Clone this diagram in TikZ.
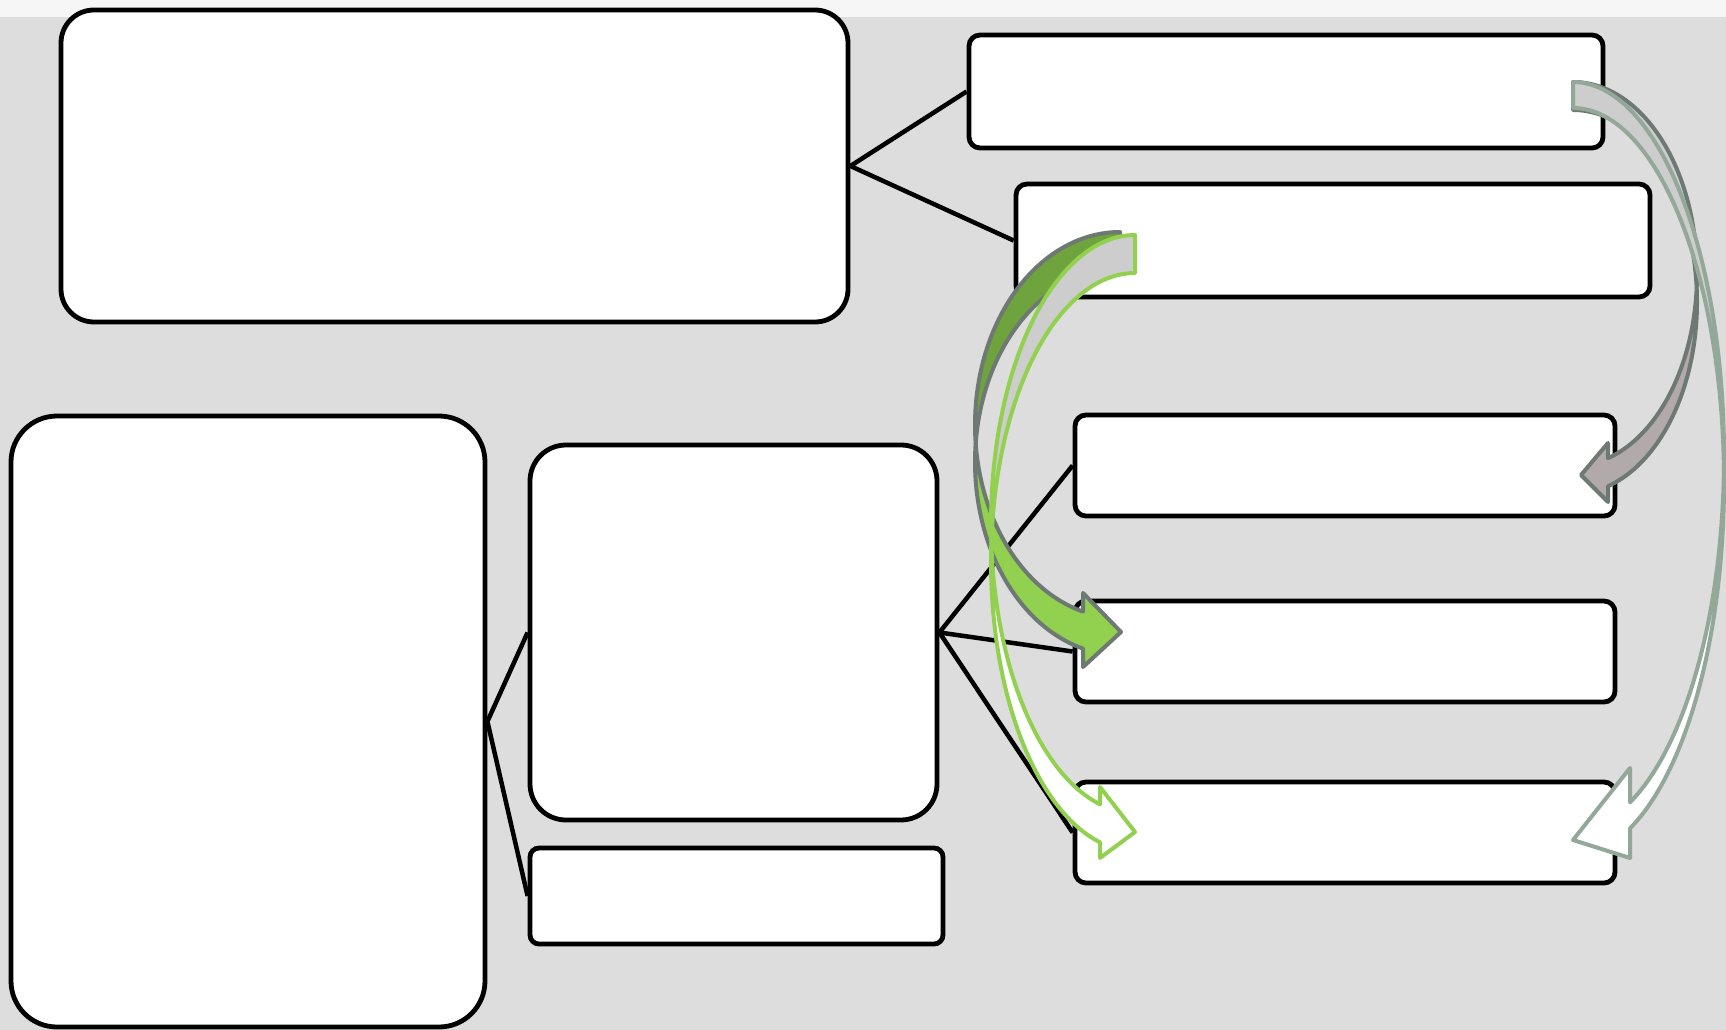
\documentclass[tikz,border=0pt]{standalone}
\usepackage{tikz}
\definecolor{bggray}{HTML}{DDDDDD}
\definecolor{topband}{HTML}{F6F6F6}
\definecolor{agreen}{HTML}{92D050}
\definecolor{agreendark}{HTML}{6FA33D}
\definecolor{agrayline}{HTML}{6D7972}
\definecolor{asage}{HTML}{94A89A}
\definecolor{aback}{HTML}{CDCDCD}
\definecolor{amauve}{HTML}{B1A9AA}
\tikzset{
  pbox/.style={draw=black, fill=white, line width=4.8pt, rectangle, inner sep=0pt},
  conn/.style={draw=black, line width=4.5pt},
}
% curved ribbon arrow; parameters are read from \rbS,\rbCx,\rbCy,\rbW,\rbH,\rbT,\rbXb,\rbYa,\rbYb,\rbTx,\rbTy
\newcommand{\ribbonarrow}[3]{%
  \pgfmathsetmacro\rbTA{180-asin(\rbT/(2*\rbH))}%
  \pgfmathsetmacro\rbTB{180+asin(\rbT/(2*\rbH))}%
  \pgfmathsetmacro\rbTH{acos(\rbS*(\rbXb-\rbCx)/\rbW)}%
  \filldraw[fill=#1, draw=#3, line width=4pt, line join=round]
    plot[domain=270:\rbTA, samples=70] ({\rbCx+\rbS*\rbW*cos(\x)},{\rbCy+\rbH*sin(\x)})
    -- plot[domain=\rbTB:270, samples=70] ({\rbCx+\rbS*\rbW*cos(\x)},{\rbCy+\rbT+\rbH*sin(\x)})
    -- cycle;
  \filldraw[fill=#2, draw=#3, line width=4pt, line join=round]
    plot[domain=\rbTA:\rbTH, samples=70] ({\rbCx+\rbS*\rbW*cos(\x)},{\rbCy+\rbH*sin(\x)})
    -- (\rbXb,\rbYa) -- (\rbTx,\rbTy) -- (\rbXb,\rbYb)
    -- plot[domain=\rbTH:\rbTB, samples=70] ({\rbCx+\rbS*\rbW*cos(\x)},{\rbCy+\rbT+\rbH*sin(\x)})
    -- cycle;
}
\begin{document}
\begin{tikzpicture}[x=1pt,y=-1pt]
\useasboundingbox (0,0) rectangle (1726,1030);
\fill[bggray] (0,0) rectangle (1726,1030);
\fill[topband] (0,0) rectangle (1726,17);

% boxes
\node[pbox, rounded corners=33pt, minimum width=787pt, minimum height=312pt] (A) at (454.5,166) {};
\node[pbox, rounded corners=11pt, minimum width=634pt, minimum height=113pt] (B) at (1286,91.5) {};
\node[pbox, rounded corners=11pt, minimum width=634pt, minimum height=113pt] (C) at (1333,240.5) {};
\node[pbox, rounded corners=11pt, minimum width=540pt, minimum height=101pt] (D) at (1345,465.5) {};
\node[pbox, rounded corners=11pt, minimum width=540pt, minimum height=101pt] (E) at (1345,651.5) {};
\node[pbox, rounded corners=11pt, minimum width=540pt, minimum height=101pt] (F) at (1345,832.5) {};
\node[pbox, rounded corners=46pt, minimum width=474pt, minimum height=611pt] (G) at (248,721.5) {};
\node[pbox, rounded corners=36pt, minimum width=407pt, minimum height=375pt] (H) at (733.5,632.5) {};
\node[pbox, rounded corners=9pt, minimum width=413pt, minimum height=96pt] (I) at (736.5,896) {};

% connectors
\draw[conn] (A.east) -- (B.west);
\draw[conn] (A.east) -- (C.west);
\draw[conn] (G.east) -- (H.west);
\draw[conn] (G.east) -- (I.west);
\draw[conn] (H.east) -- (D.west);
\draw[conn] (H.east) -- (E.west);
\draw[conn] (H.east) -- (F.west);

% arrow 1: B -> D (right side, mauve)
\def\rbS{-1}\def\rbCx{1573}\def\rbCy{274}\def\rbW{124}\def\rbH{192}\def\rbT{28}
\def\rbXb{1608}\def\rbYa{443}\def\rbYb{502}\def\rbTx{1581}\def\rbTy{475}
\ribbonarrow{aback}{amauve}{agrayline}

% arrow 2: B -> F (right side, white)
\def\rbS{-1}\def\rbCx{1573}\def\rbCy{456}\def\rbW{151}\def\rbH{374}\def\rbT{26}
\def\rbXb{1630}\def\rbYa{768}\def\rbYb{858}\def\rbTx{1573}\def\rbTy{840}
\ribbonarrow{aback}{white}{asage}

% arrow 3: C -> E (left side, green)
\def\rbS{1}\def\rbCx{1120}\def\rbCy{425}\def\rbW{145}\def\rbH{193}\def\rbT{37}
\def\rbXb{1083}\def\rbYa{593}\def\rbYb{667}\def\rbTx{1121}\def\rbTy{632}
\ribbonarrow{agreendark}{agreen}{agrayline}

% arrow 4: C -> F (left side, white with green outline)
\def\rbS{1}\def\rbCx{1135}\def\rbCy{524}\def\rbW{144}\def\rbH{289}\def\rbT{38}
\def\rbXb{1100}\def\rbYa{787}\def\rbYb{858}\def\rbTx{1135}\def\rbTy{832}
\ribbonarrow{aback}{white}{agreen}
\end{tikzpicture}
\end{document}
